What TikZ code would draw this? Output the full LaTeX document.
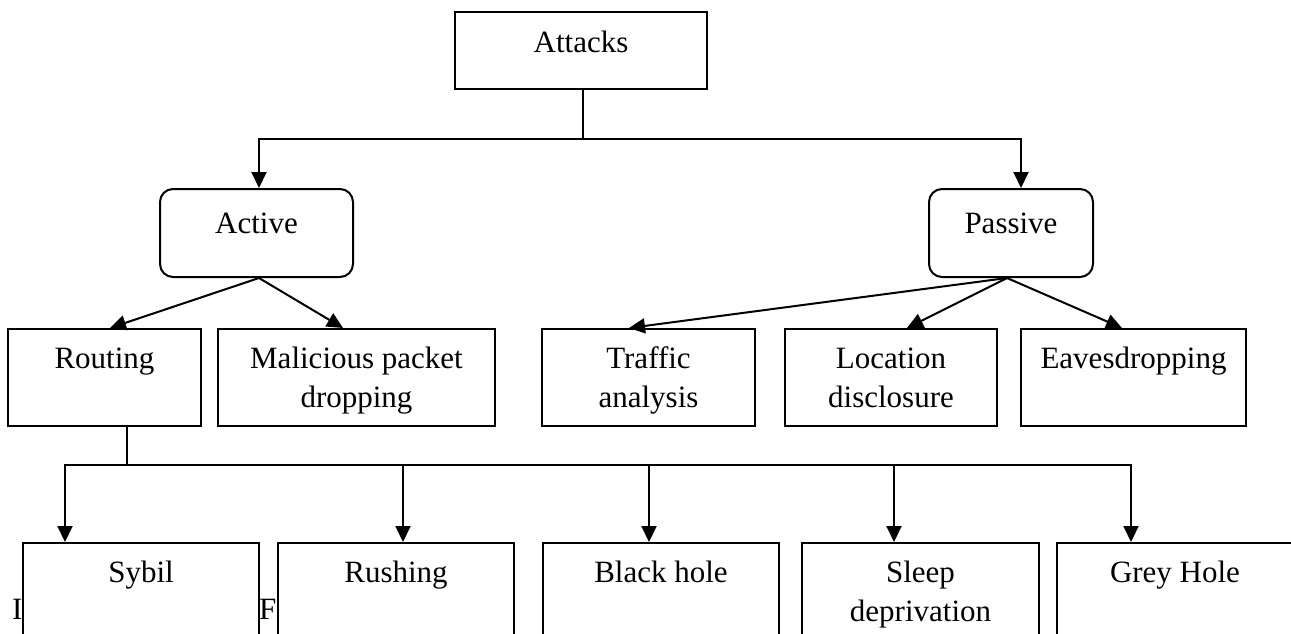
\documentclass[tikz,border=0pt]{standalone}
\usepackage{fontspec}
\setmainfont{Liberation Serif}
\usetikzlibrary{arrows.meta}
% box contents: width, height, first baseline from top, text (top aligned, centred)
\newcommand{\boxtext}[4]{\parbox[c][#2pt][t]{#1pt}{\centering\rule{0pt}{#3pt}#4}}

\begin{document}
\begin{tikzpicture}[x=1pt,y=-1pt,
  every node/.style={font=\fontsize{31}{39}\selectfont},
  box/.style={draw, line width=2pt, fill=white, inner sep=0pt, rectangle},
  roundbox/.style={box, rounded corners=13pt},
  link/.style={line width=2pt},
  arr/.style={link, -{Triangle[length=16pt,width=15pt]}}]
\clip (0,0) rectangle (1291,633);
\fill[white] (0,0) rectangle (1291,633);

% caption letters partly hidden behind the bottom row
\node[anchor=base west, inner sep=0pt] (capI) at (12,619) {I};
\node[anchor=base west, inner sep=0pt] (capF) at (259,619) {F};

% top level
\node[box] (attacks) at (581,50.5) {\boxtext{252}{77}{40}{Attacks}};
\node[roundbox] (active) at (256.5,233) {\boxtext{193}{88}{44}{Active}};
\node[roundbox] (passive) at (1011,233) {\boxtext{164}{88}{44}{Passive}};

% second level
\node[box] (routing) at (104.5,377.5) {\boxtext{193}{97}{39}{Routing}};
\node[box] (malicious) at (356.5,377.5) {\boxtext{277}{97}{39}{Malicious packet\\dropping}};
\node[box] (traffic) at (648.5,377.5) {\boxtext{213}{97}{39}{Traffic\\analysis}};
\node[box] (location) at (891,377.5) {\boxtext{212}{97}{39}{Location\\disclosure}};
\node[box] (eaves) at (1133.5,377.5) {\boxtext{225}{97}{39}{Eavesdropping}};

% routing attacks
\node[box] (sybil) at (141,613) {\boxtext{236}{140}{39}{Sybil}};
\node[box] (rushing) at (396,613) {\boxtext{236}{140}{39}{Rushing}};
\node[box] (blackhole) at (661,613) {\boxtext{236}{140}{39}{Black hole}};
\node[box] (sleep) at (920.5,613) {\boxtext{237}{140}{39}{Sleep\\deprivation}};
\node[box] (grey) at (1175,613) {\boxtext{236}{140}{39}{Grey Hole}};

% connectors
\coordinate (hubtop) at (583,139);
\draw[link] ([xshift=2pt]attacks.south) -- (hubtop);
\draw[arr] (hubtop) -| ([xshift=2.5pt]active.north);
\draw[arr] (hubtop) -| ([xshift=10pt]passive.north);

\draw[arr] ([xshift=2.5pt]active.south) -- ([xshift=5.5pt]routing.north);
\draw[arr] ([xshift=2.5pt]active.south) -- ([xshift=-13.5pt]malicious.north);

\draw[arr] ([xshift=-4pt]passive.south) -- ([xshift=-19.5pt]traffic.north);
\draw[arr] ([xshift=-4pt]passive.south) -- ([xshift=16pt]location.north);
\draw[arr] ([xshift=-4pt]passive.south) -- ([xshift=-11.5pt]eaves.north);

\coordinate (hubbot) at (127,465);
\draw[link] ([xshift=22.5pt]routing.south) -- (hubbot);
\draw[arr] (hubbot) -| ([xshift=-76pt]sybil.north);
\draw[arr] (hubbot) -| ([xshift=7pt]rushing.north);
\draw[arr] (hubbot) -| ([xshift=-12pt]blackhole.north);
\draw[arr] (hubbot) -| ([xshift=-26.5pt]sleep.north);
\draw[arr] (hubbot) -| ([xshift=-44pt]grey.north);
\end{tikzpicture}
\end{document}
